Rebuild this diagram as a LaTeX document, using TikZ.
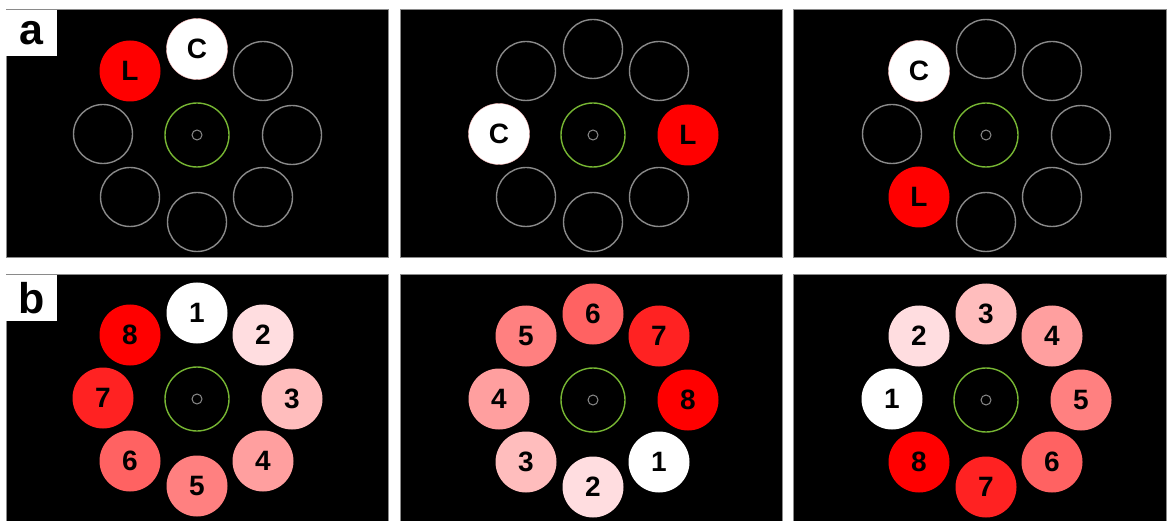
\documentclass[tikz,border=0pt]{standalone}
\usepackage{fontspec}
\setmainfont{Liberation Sans}
\definecolor{shade1}{HTML}{FFFFFF}
\definecolor{shade2}{HTML}{FFDDE0}
\definecolor{shade3}{HTML}{FFBDBD}
\definecolor{shade4}{HTML}{FF9F9F}
\definecolor{shade5}{HTML}{FF8080}
\definecolor{shade6}{HTML}{FF6262}
\definecolor{shade7}{HTML}{FF2222}
\definecolor{shade8}{HTML}{FF0000}
\definecolor{ringgray}{HTML}{8A8A8A}
\definecolor{hubgreen}{HTML}{77B633}
\begin{document}
\begin{tikzpicture}[x=1pt,y=-1pt,
  panel/.style={fill=black,draw=ringgray,line width=1pt},
  tag/.style={fill=white,inner sep=0pt,minimum width=51pt,minimum height=46pt,font=\fontsize{43}{43}\selectfont\bfseries},
  emptydisc/.style={circle,draw=ringgray,line width=1.4pt,minimum size=59pt,inner sep=0pt},
  disc/.style={circle,minimum size=61pt,inner sep=0pt,font=\fontsize{28}{28}\selectfont\bfseries,text=black},
  hub/.style={circle,draw=hubgreen,line width=1.4pt,minimum size=64pt,inner sep=0pt},
  axle/.style={circle,draw=ringgray,line width=1pt,minimum size=10pt,inner sep=0pt}]
\useasboundingbox (0,0) rectangle (1167,521);
\fill[white] (0,0) rectangle (1167,521);
% panels
\draw[panel] (6,10) rectangle (388,258);
\draw[panel] (400,10) rectangle (782,258);
\draw[panel] (793,10) rectangle (1166,258);
\draw[panel] (6,275) rectangle (388,521);
\draw[panel] (400,275) rectangle (782,521);
\draw[panel] (793,275) rectangle (1166,521);
\node[tag] (taga) at (31.5,33) {a};
\node[tag] (tagb) at (31.5,298) {b};
% hubs
\foreach \cx/\cy/\nm in {197/135/a1,593/135/a2,986/135/a3,197/399/b1,593/400/b2,986/400/b3}{
  \node[hub] (hub\nm) at (\cx,\cy) {};
  \node[axle] (axle\nm) at (\cx,\cy) {};
}
% row a
\foreach \cx/\cy/\pc/\pl/\pn in {197/135/1/8/1, 593/135/7/3/2, 986/135/8/6/3}{
  \foreach \k/\dx/\dy in {1/0/-86,2/66/-64,3/95/0,4/66/62,5/0/87,6/-67/62,7/-94/-1,8/-67/-64}{
    \ifnum\k=\pc
      \node[disc,fill=white,draw=shade3,line width=0.4pt] (a\pn-\k) at (\cx+\dx,\cy+\dy) {C};
    \else\ifnum\k=\pl
      \node[disc,fill=shade8] (a\pn-\k) at (\cx+\dx,\cy+\dy) {L};
    \else
      \node[emptydisc] (a\pn-\k) at (\cx+\dx,\cy+\dy) {};
    \fi\fi
  }
}
% row b
\foreach \cx/\cy/\sh/\pn in {197/399/0/1, 593/400/5/2, 986/400/2/3}{
  \foreach \k/\dx/\dy in {1/0/-86,2/66/-64,3/95/0,4/66/62,5/0/87,6/-67/62,7/-94/-1,8/-67/-64}{
    \pgfmathtruncatemacro\n{mod(\k-1+\sh,8)+1}
    \node[disc,fill=shade\n] (b\pn-\k) at (\cx+\dx,\cy+\dy) {\n};
  }
}
\end{tikzpicture}
\end{document}
